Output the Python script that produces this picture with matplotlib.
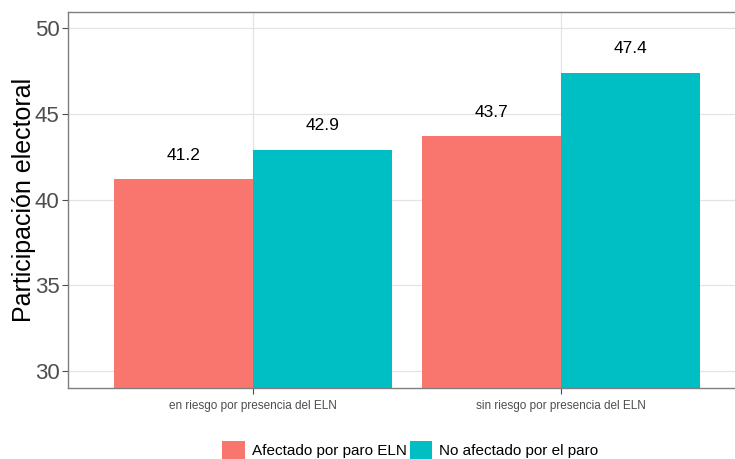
import numpy as np
import matplotlib
matplotlib.use('Agg')
import matplotlib.pyplot as plt
from matplotlib.patches import Patch

plt.rcParams['font.family'] = ['Liberation Sans', 'DejaVu Sans']

categories = ['en riesgo por presencia del ELN', 'sin riesgo por presencia del ELN']
groups = ['Afectado por paro ELN', 'No afectado por el paro']
afectado = [41.2, 43.7]
no_afectado = [42.9, 47.4]
colors = ['#F8766D', '#00BFC4']
yticks = [30, 35, 40, 45, 50]

W, H = 735, 459
fig = plt.figure(figsize=(W / 100, H / 100), dpi=100)
# panel runs a little past the right edge, as in the original crop
ax = fig.add_axes([68 / W, (H - 388) / H, (746 - 68) / W, (388 - 12) / H])

x = np.arange(1, len(categories) + 1)
bw = 0.45
for i, (vals, col) in enumerate(zip([afectado, no_afectado], colors)):
    pos = x + (i - 0.5) * bw
    ax.bar(pos, vals, width=bw, color=col, zorder=2)
    for p, v in zip(pos, vals):
        ax.text(p, v + 1.4, f'{v:.1f}', ha='center', va='center',
                fontsize=12.5, color='black', zorder=3)

ax.set_xlim(0.4, 2.6)
ax.set_ylim(29, 50.95)
ax.set_yticks(yticks)
ax.set_xticks(x)
ax.set_xticklabels(categories, fontsize=8.5, color='#4d4d4d')
ax.tick_params(axis='y', labelsize=16, labelcolor='#4d4d4d', color='#4d4d4d',
               length=4, width=0.8, pad=2)
ax.tick_params(axis='x', color='#4d4d4d', length=4, width=0.8, pad=5)
ax.set_ylabel('Participación electoral', fontsize=18, labelpad=-1)

ax.grid(True, color='#e3e3e3', lw=0.9, zorder=0)
ax.set_axisbelow(True)
for side in ['left', 'top', 'bottom']:
    ax.spines[side].set_color('#7f7f7f')
    ax.spines[side].set_linewidth(1.0)
ax.spines['right'].set_visible(False)

handles = [Patch(facecolor=c, edgecolor='none') for c in colors]
fig.legend(handles, groups, loc='center', bbox_to_anchor=(0.558, (H - 450) / H),
           ncol=2, frameon=False, fontsize=11, handlelength=1.5,
           handleheight=1.5, handletextpad=0.45, columnspacing=0.2)

fig.savefig('out.png', dpi=100)
